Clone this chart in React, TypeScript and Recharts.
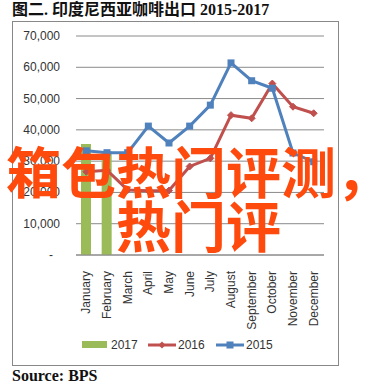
import React from "react";
import {
  ComposedChart,
  Bar,
  Line,
  XAxis,
  YAxis,
  CartesianGrid,
  Legend,
} from "recharts";

const months = [
  "January",
  "February",
  "March",
  "April",
  "May",
  "June",
  "July",
  "August",
  "September",
  "October",
  "November",
  "December",
];
const values2017: (number | null)[] = [35500, 33200, null, null, null, null, null, null, null, null, null, null];
const values2016 = [26600, 27100, 20800, 20500, 20600, 28300, 30900, 44700, 43700, 54800, 47400, 45300];
const values2015 = [33300, 32700, 32700, 41200, 35800, 41200, 47900, 61400, 55700, 53300, 32600, 29800];
const yTicks = [0, 10000, 20000, 30000, 40000, 50000, 60000, 70000];

const data = months.map((m, i) => ({
  month: m,
  y2017: values2017[i],
  y2016: values2016[i],
  y2015: values2015[i],
}));

const C2017 = "#9BBB59";
const C2016 = "#C0504D";
const C2015 = "#4F81BD";
const AXIS_FONT = "'Liberation Sans', Arial, sans-serif";

const YTick = (props: any) => {
  const { x, y, payload } = props;
  const v = payload.value as number;
  const label = v === 0 ? "-" : v.toLocaleString("en-US");
  return (
    <text
      x={v === 0 ? x - 7 : x}
      y={y}
      dy={4}
      textAnchor="end"
      fontSize={12}
      fontFamily={AXIS_FONT}
      fill="#333"
    >
      {label}
    </text>
  );
};

const XTick = (props: any) => {
  const { x, y, payload } = props;
  return (
    <g transform={`translate(${x + 4},${y + 8})`}>
      <text
        transform="rotate(-90)"
        textAnchor="end"
        fontSize={12}
        fontFamily={AXIS_FONT}
        fill="#333"
      >
        {payload.value}
      </text>
    </g>
  );
};

const Diamond = (props: any) => {
  const { cx, cy } = props;
  if (cx == null || cy == null) return null;
  const r = 3.5;
  return (
    <path
      d={`M${cx},${cy - r} L${cx + r},${cy} L${cx},${cy + r} L${cx - r},${cy} Z`}
      fill={C2016}
      stroke={C2016}
    />
  );
};

const Square = (props: any) => {
  const { cx, cy } = props;
  if (cx == null || cy == null) return null;
  const r = 3.5;
  return <rect x={cx - r} y={cy - r} width={2 * r} height={2 * r} fill={C2015} />;
};

const LegendContent = () => {
  const txt: React.CSSProperties = {
    fontFamily: AXIS_FONT,
    fontSize: 12,
    color: "#333",
    lineHeight: "20px",
  };
  return (
    <div style={{ position: "relative", height: 20, width: 327 }}>
      <div style={{ position: "absolute", left: 70, top: 6, width: 25, height: 7, background: C2017 }} />
      <div style={{ ...txt, position: "absolute", left: 99, top: 0 }}>2017</div>
      <svg style={{ position: "absolute", left: 136, top: 0 }} width={30} height={20}>
        <line x1={0} y1={10} x2={28} y2={10} stroke={C2016} strokeWidth={3} />
        <path d="M14,6.5 L17.5,10 L14,13.5 L10.5,10 Z" fill={C2016} />
      </svg>
      <div style={{ ...txt, position: "absolute", left: 166, top: 0 }}>2016</div>
      <svg style={{ position: "absolute", left: 204, top: 0 }} width={30} height={20}>
        <line x1={0} y1={10} x2={28} y2={10} stroke={C2015} strokeWidth={3} />
        <rect x={10.5} y={6.5} width={7} height={7} fill={C2015} />
      </svg>
      <div style={{ ...txt, position: "absolute", left: 234, top: 0 }}>2015</div>
    </div>
  );
};

export default function App() {
  return (
    <div
      style={{
        position: "absolute",
        left: 0,
        top: 0,
        width: 389,
        height: 388,
        background: "#fff",
        overflow: "hidden",
      }}
    >
      <div
        style={{
          position: "absolute",
          left: 12,
          top: 0,
          fontFamily: "'Liberation Serif', 'Noto Sans CJK SC', serif",
          fontWeight: 700,
          fontSize: 16,
          lineHeight: "20px",
          color: "#111",
          whiteSpace: "nowrap",
        }}
      >
        图二. 印度尼西亚咖啡出口 2015-2017
      </div>
      <div
        style={{
          position: "absolute",
          left: 12,
          top: 21,
          width: 327,
          height: 345,
          boxSizing: "border-box",
          border: "1px solid #888",
        }}
      />
      <div style={{ position: "absolute", left: 12, top: 21 }}>
        <ComposedChart
          width={327}
          height={345}
          data={data}
          margin={{ top: 15, right: 15, bottom: 11, left: 0 }}
        >
          <CartesianGrid vertical={false} stroke="#8a8a8a" strokeWidth={1} />
          <XAxis
            dataKey="month"
            interval={0}
            tickLine={false}
            axisLine={{ stroke: "#8a8a8a" }}
            height={80}
            tick={<XTick />}
          />
          <YAxis
            domain={[0, 70000]}
            ticks={yTicks}
            width={64}
            tickLine={false}
            axisLine={false}
            tickSize={0}
            tickMargin={16}
            tick={<YTick />}
            interval={0}
          />
          <Legend
            verticalAlign="bottom"
            content={<LegendContent />}
            wrapperStyle={{ left: 0, width: 327, height: 20 }}
          />
          <Bar dataKey="y2017" name="2017" fill={C2017} barSize={10} isAnimationActive={false} />
          <Line
            dataKey="y2016"
            name="2016"
            stroke={C2016}
            strokeWidth={3}
            dot={<Diamond />}
            activeDot={false}
            isAnimationActive={false}
          />
          <Line
            dataKey="y2015"
            name="2015"
            stroke={C2015}
            strokeWidth={3}
            dot={<Square />}
            activeDot={false}
            isAnimationActive={false}
          />
        </ComposedChart>
      </div>
      <div
        style={{
          position: "absolute",
          left: 12,
          top: 366,
          fontFamily: "'Liberation Serif', serif",
          fontWeight: 700,
          fontSize: 16,
          lineHeight: "20px",
          color: "#111",
        }}
      >
        Source: BPS
      </div>
      <div
        style={{
          position: "absolute",
          left: 6,
          top: 142,
          fontFamily: "'Noto Sans CJK SC', sans-serif",
          fontWeight: 700,
          fontSize: 55,
          lineHeight: "55px",
          color: "#FF4A0E",
          whiteSpace: "nowrap",
        }}
      >
        箱包热门评测，
      </div>
      <div
        style={{
          position: "absolute",
          left: 116,
          top: 196,
          fontFamily: "'Noto Sans CJK SC', sans-serif",
          fontWeight: 700,
          fontSize: 55,
          lineHeight: "55px",
          color: "#FF4A0E",
          whiteSpace: "nowrap",
        }}
      >
        热门评
      </div>
    </div>
  );
}
